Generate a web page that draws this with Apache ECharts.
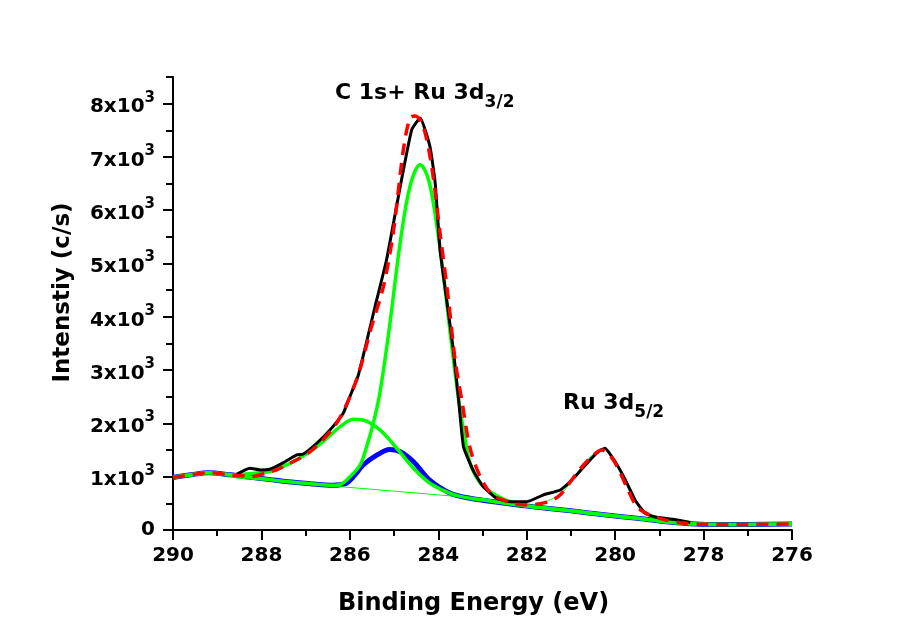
<!DOCTYPE html>
<html>
<head>
<meta charset="utf-8">
<script src="https://cdn.jsdelivr.net/npm/echarts@6.0.0/dist/echarts.min.js"></script>
<style>
  html, body { margin: 0; padding: 0; background: #fff; }
  #chart { width: 902px; height: 628px; }
</style>
</head>
<body>
<div id="chart"></div>
<script>
// measured spectrum (black)
const rawData = [
  [288.56, 1045], [288.26, 1158], [288.03, 1127], [287.81, 1140], [287.5, 1264],
  [287.2, 1408], [287.05, 1427], [286.75, 1628], [286.45, 1878], [286.15, 2191],
  [286.03, 2441], [285.81, 2900], [285.43, 4194], [285.17, 5070], [284.86, 6447],
  [284.6, 7512], [284.41, 7731], [284.19, 7199], [284.07, 6510], [283.96, 5258],
  [283.81, 4319], [283.66, 3380], [283.54, 2441], [283.43, 1565], [283.2, 1100],
  [282.98, 810], [282.68, 595], [282.38, 530], [282.0, 530], [281.62, 660],
  [281.24, 750], [280.94, 970], [280.64, 1250], [280.38, 1470], [280.23, 1535],
  [280.0, 1280], [279.77, 940], [279.55, 563], [279.32, 313], [279.06, 238],
  [278.6, 188], [278.3, 140]
];

// fitted envelope (red dashed)
const envelope = [
  [290, 985], [289.6, 1035], [289.2, 1075], [288.7, 1035], [288.2, 1005],
  [287.81, 1096], [287.65, 1127], [287.5, 1190], [286.9, 1470], [286.3, 2003],
  [285.85, 2817], [285.51, 3818], [285.24, 4570], [285.02, 5572], [284.79, 7136],
  [284.64, 7731], [284.52, 7770], [284.34, 7574], [284.15, 6823], [283.96, 5572],
  [283.77, 4319], [283.62, 3192], [283.47, 2441], [283.24, 1410], [282.83, 700],
  [282.3, 500], [282.0, 470], [281.51, 530], [281.24, 660], [280.87, 1065],
  [280.57, 1345], [280.3, 1500], [280.04, 1315], [279.74, 815], [279.51, 440],
  [279.21, 280], [278.91, 200], [278.5, 130], [278.0, 106], [277.0, 105], [276.0, 112]
];

// C 1s main component (green)
const peakMain = [
  [290, 985], [289.6, 1035], [289.2, 1075], [288.7, 1035], [288.2, 985],
  [287.8, 945], [287.4, 905], [286.9, 870], [286.4, 840], [286.2, 860],
  [286.0, 1000], [285.77, 1220], [285.62, 1565], [285.47, 2003], [285.35, 2441],
  [285.24, 3000], [285.09, 3900], [284.86, 5400], [284.64, 6447], [284.41, 6854],
  [284.22, 6573], [284.03, 5696], [283.88, 4757], [283.73, 3693], [283.54, 2441],
  [283.43, 1878], [283.28, 1252], [283.05, 877], [282.83, 720], [282.5, 570],
  [282.2, 490], [282.0, 450], [281.0, 360], [280.3, 290], [279.5, 220],
  [279.0, 170], [278.5, 130], [278.0, 106], [277.0, 105], [276.0, 112]
];

// broad component (green)
const peakBroad = [
  [290, 985], [289.6, 1035], [289.2, 1075], [288.7, 1035], [288.5, 1040],
  [288.2, 1060], [287.8, 1100], [287.35, 1252], [286.9, 1470], [286.52, 1722],
  [286.22, 1940], [285.92, 2078], [285.7, 2065], [285.32, 1878], [284.94, 1534],
  [284.56, 1158], [284.19, 877], [283.73, 689], [283.28, 595], [282.83, 545],
  [282.4, 490], [282.0, 450], [281.0, 360], [280.3, 290], [279.5, 220],
  [279.0, 170], [278.5, 130], [278.0, 106], [277.0, 105], [276.0, 112]
];

// component at 285 eV (blue)
const peakBlue = [
  [290, 985], [289.6, 1035], [289.2, 1075], [288.7, 1035], [288.2, 985],
  [287.8, 945], [287.4, 905], [286.9, 870], [286.4, 840], [286.1, 870],
  [285.9, 1020], [285.7, 1220], [285.4, 1400], [285.1, 1510], [284.86, 1470],
  [284.56, 1280], [284.2, 940], [283.73, 690], [283.28, 595], [282.83, 540],
  [282.4, 490], [282.0, 450], [281.0, 360], [280.3, 290], [279.5, 220],
  [279.0, 170], [278.5, 130], [278.0, 106], [277.0, 105], [276.0, 112]
];

// Ru 3d5/2 component (thin green)
const peakRu = [
  [282.4, 480], [282.0, 455], [281.6, 520], [281.2, 700], [280.9, 1020],
  [280.6, 1340], [280.3, 1510], [280.0, 1300], [279.7, 860], [279.45, 460],
  [279.2, 290], [278.9, 200], [278.5, 135]
];

// linear background (thin green)
const background = [[288.6, 980], [282.8, 575]];

const yTicks = [0, 1000, 2000, 3000, 4000, 5000, 6000, 7000, 8000];
const yMinorTicks = [500, 1500, 2500, 3500, 4500, 5500, 6500, 7500, 8500];

const FONT = 'DejaVu Sans';
const chart = echarts.init(document.getElementById('chart'));

const axisLineStyle = { color: '#000', width: 2 };

// main text + subscript
const subRich = {
  m: { fontFamily: FONT, fontWeight: 'bold', fontSize: 22, lineHeight: 24, fill: '#000', verticalAlign: 'top' },
  s: { fontFamily: FONT, fontWeight: 'bold', fontSize: 17, lineHeight: 29, fill: '#000', verticalAlign: 'bottom' }
};

const option = {
  animation: false,
  backgroundColor: '#fff',
  grid: { left: 173, right: 110, top: 77, bottom: 98, containLabel: false, outerBoundsMode: 'none' },
  xAxis: {
    type: 'value',
    inverse: true,
    min: 276,
    max: 290,
    interval: 2,
    name: 'Binding Energy (eV)',
    nameLocation: 'middle',
    nameGap: 62,
    nameTextStyle: { fontFamily: FONT, fontWeight: 'bold', fontSize: 24, color: '#000', padding: [0, 18, 0, 0] },
    axisLine: { lineStyle: axisLineStyle },
    axisTick: { length: 10, lineStyle: { width: 2, color: '#000' } },
    minorTick: { show: true, splitNumber: 2, length: 6, lineStyle: { width: 2, color: '#000' } },
    axisLabel: { fontFamily: FONT, fontWeight: 'bold', fontSize: 20, color: '#000', margin: 16 },
    splitLine: { show: false }
  },
  yAxis: [
    {
      type: 'value',
      min: 0,
      max: 8500,
      position: 'left',
      name: 'Intenstiy (c/s)',
      nameLocation: 'middle',
      nameGap: 98,
      nameTextStyle: { fontFamily: FONT, fontWeight: 'bold', fontSize: 23, color: '#000', padding: [0, 0, 0, 22] },
      axisLine: { show: true, lineStyle: axisLineStyle },
      axisTick: { show: true, length: 10, customValues: yTicks, lineStyle: { width: 2, color: '#000' } },
      axisLabel: {
        customValues: yTicks,
        margin: 18,
        formatter: function (v) {
          return v === 0 ? '{z|0}' : '{b|' + (v / 1000) + 'x10}{s|3}';
        },
        rich: {
          z: { fontFamily: FONT, fontWeight: 'bold', fontSize: 20, lineHeight: 20, color: '#000' },
          b: { fontFamily: FONT, fontWeight: 'bold', fontSize: 20, lineHeight: 27, color: '#000', verticalAlign: 'bottom' },
          s: { fontFamily: FONT, fontWeight: 'bold', fontSize: 15, lineHeight: 15, color: '#000', verticalAlign: 'top' }
        }
      },
      splitLine: { show: false }
    },
    {
      type: 'value',
      min: 0,
      max: 8500,
      position: 'left',
      axisLine: { show: false },
      axisTick: { show: true, length: 7, customValues: yMinorTicks, lineStyle: { width: 2, color: '#000' } },
      axisLabel: { show: false },
      splitLine: { show: false }
    }
  ],
  graphic: [
    { type: 'text', x: 335, y: 82, style: { text: '{m|C 1s+ Ru 3d}{s|3/2}', rich: subRich } },
    { type: 'text', x: 563, y: 392, style: { text: '{m|Ru 3d}{s|5/2}', rich: subRich } }
  ],
  series: [
    { type: 'line', data: peakBlue, showSymbol: false, smooth: 0.3, lineStyle: { color: '#0000ff', width: 5 }, z: 2 },
    { type: 'line', data: peakBroad, showSymbol: false, smooth: 0.3, lineStyle: { color: '#00ff00', width: 3.5 }, z: 3 },
    { type: 'line', data: peakMain, showSymbol: false, smooth: 0.35, lineStyle: { color: '#00ff00', width: 3.5 }, z: 3 },
    { type: 'line', data: background, showSymbol: false, lineStyle: { color: '#00ff00', width: 1 }, z: 3 },
    { type: 'line', data: peakRu, showSymbol: false, smooth: 0.3, lineStyle: { color: '#00ff00', width: 1 }, z: 3 },
    { type: 'line', data: rawData, showSymbol: false, smooth: 0.15, lineStyle: { color: '#000', width: 3 }, z: 4 },
    { type: 'line', data: envelope, showSymbol: false, smooth: 0.3, lineStyle: { color: '#ff0000', width: 3.5, type: [12, 8] }, z: 5 }
  ]
};

chart.setOption(option);
</script>
</body>
</html>
